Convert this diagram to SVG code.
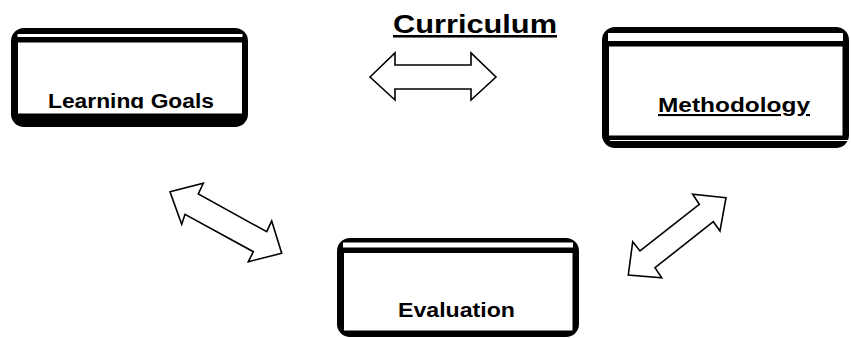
<svg xmlns="http://www.w3.org/2000/svg" width="851" height="338" viewBox="0 0 851 338">
<style>
.outer{fill:#000}
.gap{fill:#fff}
.inner{fill:#fff;stroke:#000;stroke-width:1}
.sheen{fill:#fff}
.lbl{font-family:"Liberation Sans",Arial,sans-serif;font-weight:bold;fill:#000;text-anchor:middle}
.arr{fill:#fff;stroke:#000;stroke-width:1.6;stroke-linejoin:miter}
</style>
<defs>
<clipPath id="clipLG"><rect x="17" y="42" width="225" height="66.4"/></clipPath>
</defs>
<rect width="851" height="338" fill="#fff"/>

<text class="lbl" x="475" y="33" font-size="25.5" textLength="164" lengthAdjust="spacingAndGlyphs" text-decoration="underline">Curriculum</text>

<g id="learning-goals">
<rect class="outer" x="11" y="28" width="237" height="99" rx="13"/>
<rect class="gap" x="17.5" y="34" width="225" height="3"/>
<rect class="inner" x="17.5" y="42" width="225" height="72"/>
<text class="lbl" x="131" y="108" font-size="19.5" textLength="166" lengthAdjust="spacingAndGlyphs" clip-path="url(#clipLG)">Learning Goals</text>
</g>

<g id="methodology">
<rect class="outer" x="602" y="27" width="247" height="121" rx="13"/>
<rect class="gap" x="608" y="33" width="235" height="8"/>
<rect class="inner" x="608.5" y="46" width="234.5" height="90"/>
<rect class="sheen" x="610" y="140" width="238" height="1"/>
<text class="lbl" x="734" y="112" font-size="21" textLength="152" lengthAdjust="spacingAndGlyphs" text-decoration="underline">Methodology</text>
</g>

<g id="evaluation">
<rect class="outer" x="337" y="238" width="242" height="99" rx="13"/>
<rect class="gap" x="343" y="242.5" width="230" height="5"/>
<rect class="inner" x="343.5" y="252.5" width="229.5" height="78.5"/>
<text class="lbl" x="456.5" y="317" font-size="20" textLength="117" lengthAdjust="spacingAndGlyphs">Evaluation</text>
</g>

<g id="connectors">
<polygon class="arr" points="370,77 395,53 395,65 471,65 471,53 496,77 471,100 471,89 395,89 395,100"/>
<polygon class="arr" points="170,191.7 203.3,183.3 198.3,194 266.7,231.7 271.7,221 281.7,253.3 248.3,261.7 253.3,251.7 185,214.3 181.7,224.3"/>
<polygon class="arr" points="726,197.7 692.7,194.3 699.3,204.3 640,251 632.7,241.7 628.3,275 661.7,277.7 655,267.7 713.3,221.7 720,231"/>
</g>
</svg>
